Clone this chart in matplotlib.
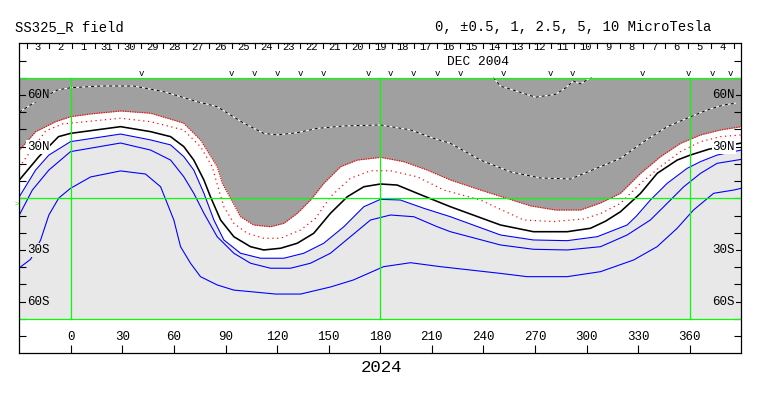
import matplotlib
matplotlib.use('Agg')
import matplotlib.pyplot as plt

plt.rcParams['font.family'] = ['Liberation Mono', 'DejaVu Sans Mono']

# ---------------- data (longitude / latitude in degrees) ----------------
# outer red dotted contour (boundary of dark-gray region)
r_outer_lon = [-30, -20.5, -8.9, -0.2, 11.5, 28.9, 46.4, 65.5, 75.4, 85.1, 88.1, 92.9, 98.7, 106.3,
               116.1, 123.9, 131.7, 139.4, 147.1, 156.9, 166.6, 180.1, 193.5, 207.3, 220.8, 238.3,
               267.4, 281.9, 296.4, 308.1, 319.7, 331.4, 343.0, 354.6, 366.3, 377.9, 390]
r_outer_lat = [28.0, 38.7, 44.5, 47.4, 49.0, 50.7, 49.4, 43.7, 33.9, 18.4, 8.7, 0.0, -10.7, -15.5,
               -16.5, -14.5, -8.7, -1.0, 8.7, 18.4, 22.2, 23.8, 21.3, 16.4, 10.6, 4.8,
               -4.4, -6.8, -6.8, -2.7, 2.9, 14.5, 24.2, 31.9, 36.8, 39.7, 41.6]

# inner red dotted contour
r_inner_lon = [-30, -26.3, -14.7, -4.8, 28.9, 46.4, 65.5, 75.4, 82.2, 86.1, 89.0, 94.8, 102.6,
               112.2, 122.0, 133.6, 142.3, 151.0, 162.6, 174.3, 185.9, 201.5, 216.9, 238.3,
               263.3, 280.7, 298.2, 308.1, 319.7, 331.4, 343.0, 354.6, 366.3, 377.9, 390]
r_inner_lat = [18.2, 23.4, 39.1, 43.2, 46.5, 44.5, 39.7, 30.0, 18.4, 4.8, -4.9, -14.5, -20.3,
               -23.2, -23.2, -18.4, -11.7, 0.9, 11.6, 16.0, 16.0, 12.5, 4.8, -1.0,
               -12.6, -13.5, -12.0, -8.9, -2.9, 8.7, 18.4, 27.1, 32.9, 35.8, 36.8]

# black solid contour
k_lon = [-30, -18.6, -7.2, -0.2, 28.9, 46.4, 58.0, 65.7, 71.5, 77.4, 81.2, 87.1, 94.8, 104.5,
         112.2, 122.0, 131.7, 141.3, 151.0, 160.8, 170.4, 180.1, 189.8, 201.5, 211.1, 220.8,
         249.9, 269.1, 288.7, 302.3, 311.0, 319.7, 331.4, 341.1, 352.7, 360.3, 371.1, 390]
k_lat = [10.6, 24.2, 35.8, 37.7, 41.6, 38.7, 35.8, 30.0, 22.2, 10.6, 0.9, -12.6, -22.3, -28.1,
         -30.0, -29.0, -26.1, -20.3, -8.7, 0.9, 6.7, 8.3, 7.7, 2.9, -1.0, -4.9,
         -15.5, -19.4, -19.4, -17.4, -13.3, -7.8, 2.9, 14.5, 22.2, 25.1, 28.5, 32.1]

# first blue contour (upper edge of light-gray region)
b1_lon = [-30, -20.5, -12.8, -0.2, 28.9, 46.4, 58.0, 65.7, 71.5, 77.4, 83.2, 89.0, 98.7, 110.3,
          123.9, 135.5, 147.1, 158.8, 170.4, 180.1, 191.7, 205.3, 220.8, 249.9, 269.1, 288.7,
          306.2, 323.6, 329.0, 337.1, 346.9, 358.5, 366.3, 375.9, 390]
b1_lat = [0.9, 16.4, 25.1, 32.9, 37.3, 33.9, 31.0, 24.2, 16.4, 2.9, -12.6, -24.2, -31.9, -34.8,
          -34.8, -31.9, -26.1, -16.5, -4.9, -0.6, -1.0, -5.8, -10.7, -21.3, -24.2, -24.6,
          -22.3, -15.5, -10.3, -1.0, 8.7, 17.4, 21.3, 25.1, 28.0]

# second blue contour
b2_lon = [-30, -22.4, -12.8, -0.2, 28.9, 46.4, 58.0, 65.7, 71.5, 77.4, 85.1, 94.8, 104.5, 116.1,
          127.8, 139.4, 151.0, 162.6, 174.3, 185.9, 199.5, 213.1, 220.8, 249.9, 269.1, 288.7,
          308.1, 323.6, 337.1, 346.9, 356.5, 366.3, 375.9, 390]
b2_lat = [-9.7, 4.8, 16.4, 27.1, 32.1, 28.0, 22.2, 12.5, 2.9, -8.7, -22.3, -31.9, -37.7, -40.6,
          -40.6, -37.7, -31.9, -22.3, -12.6, -9.7, -10.7, -16.5, -19.4, -27.1, -29.6, -30.0,
          -28.1, -21.3, -12.6, -2.9, 6.7, 14.5, 20.3, 22.6]

# third (deep) blue contour
b3_lon = [-30, -23.4, -17.6, -12.8, -7.0, -0.2, 11.5, 28.9, 43.4, 52.2, 59.9, 63.8, 69.6, 75.4,
          85.1, 94.8, 104.5, 119.1, 133.6, 151.0, 164.4, 181.9, 197.6, 215.0, 249.9, 265.4,
          288.7, 308.1, 327.4, 341.0, 352.7, 362.2, 373.9, 385.6, 390]
b3_lat = [-40.4, -35.4, -24.2, -9.7, 0.2, 5.8, 12.4, 15.9, 14.1, 6.7, -12.6, -28.1, -37.7, -45.5,
          -50.3, -53.3, -54.2, -55.6, -55.6, -51.5, -47.4, -39.7, -37.4, -39.7, -43.6, -45.5,
          -45.5, -42.6, -35.8, -28.1, -17.4, -6.8, 2.9, 4.8, 5.8]

# black/white dashed contour in the dark-gray region
d_lon = [-30, -21.7, -7.9, -0.2, 17.3, 36.6, 54.1, 73.5, 85.1, 100.6, 112.2, 120.0, 131.7, 143.3,
         158.8, 180.1, 197.6, 211.1, 220.8, 238.3, 255.8, 273.2, 290.7, 308.1, 319.7, 333.3,
         346.9, 358.5, 370.1, 379.8, 386.6]
d_lat = [50.1, 55.3, 62.9, 64.2, 65.2, 65.2, 61.9, 56.1, 53.2, 43.6, 37.7, 36.8, 38.1, 40.6,
         42.0, 42.6, 39.7, 34.8, 31.9, 22.2, 15.3, 11.8, 11.2, 18.4, 23.2, 32.9,
         41.6, 46.5, 51.3, 54.2, 55.2]

# small dashed dip near the top edge
dip_lon = [245.8, 249.9, 257.5, 270.3, 281.9, 287.7, 292.3, 296.4, 301.1, 303.4]
dip_lat = [70.0, 65.1, 62.8, 58.7, 60.4, 64.0, 68.1, 66.4, 69.3, 70.0]

# axis ticks / labels
lon_ticks = [0, 30, 60, 90, 120, 150, 180, 210, 240, 270, 300, 330, 360]
lat_ticks = [-80, -70, -60, -50, -40, -30, -20, -10, 0, 10, 20, 30, 40, 50, 60, 70, 80]
lat_labels = {60: '60N', 30: '30N', -30: '30S', -60: '60S'}
green_lons = [0, 180, 360]
green_lats = [70, 0, -70]

# day strip on top (DEC 2004, days running backwards)
day_labels = ['3', '2', '1', '31', '30', '29', '28', '27', '26', '25', '24', '23', '22', '21',
              '20', '19', '18', '17', '16', '15', '14', '13', '12', '11', '10', '9', '8', '7',
              '6', '5', '4']
day_first_lon = -25.8
day_last_lon = 385.7

# "v" markers above the data region
v_lons = [41.3, 93.6, 107.0, 120.4, 133.8, 147.1, 173.3, 186.1, 199.5, 213.4, 226.8, 251.8,
          279.2, 292.0, 332.7, 359.5, 373.4, 383.8]

title_left = 'SS325_R field'
title_right = '0, \u00b10.5, 1, 2.5, 5, 10 MicroTesla'
month_label = 'DEC 2004'
year_label = '2024'

# ---------------- styling ----------------
DARK = '#a0a0a0'
LIGHT = '#e8e8e8'
GREEN = '#00ff00'
LAT_TOP, LAT_BOT = 70, -70

fig = plt.figure(figsize=(7.63, 3.96), dpi=100)
ax = fig.add_axes([19.3 / 763, 1 - 353.3 / 396, 722 / 763, 310 / 396])
ax.set_xlim(-30, 390)
ax.set_ylim(-90, 90)

# fills
ax.fill_between(r_outer_lon, r_outer_lat, LAT_TOP, color=DARK, lw=0, zorder=1)
ax.fill_between(b1_lon, LAT_BOT, b1_lat, color=LIGHT, lw=0, zorder=1)

# contour lines
px = 0.72
ax.plot(d_lon, d_lat, color='white', lw=1.0 * px, zorder=2)
ax.plot(d_lon, d_lat, color='black', lw=1.0 * px, ls=(0, (3, 3)), zorder=2.1)
ax.plot(dip_lon, dip_lat, color='white', lw=1.0 * px, zorder=2)
ax.plot(dip_lon, dip_lat, color='black', lw=1.0 * px, ls=(0, (3, 3)), zorder=2.1)
ax.plot(r_outer_lon, r_outer_lat, color='red', lw=1.2 * px, ls=(0, (1, 1)), zorder=2)
ax.plot(r_inner_lon, r_inner_lat, color='red', lw=1.2 * px, ls=(0, (1, 3)), zorder=2)
ax.plot(k_lon, k_lat, color='black', lw=1.6 * px, zorder=2)
for lo, la in [(b1_lon, b1_lat), (b2_lon, b2_lat), (b3_lon, b3_lat)]:
    ax.plot(lo, la, color='blue', lw=1.1 * px, zorder=2)

# green grid lines
for g in green_lons:
    ax.plot([g, g], [LAT_BOT, LAT_TOP], color=GREEN, lw=1.2 * px, zorder=3)
for g in green_lats:
    ax.axhline(g, color=GREEN, lw=1.2 * px, zorder=3)

# ticks
ax.set_xticks(lon_ticks)
ax.set_yticks(lat_ticks)
ax.tick_params(axis='x', direction='in', length=5.5, width=0.8, bottom=True, top=False,
               labelbottom=False)
ax.tick_params(axis='y', direction='in', length=5, width=0.8, left=True, right=True,
               labelleft=False)
for s in ax.spines.values():
    s.set_linewidth(0.9)
    s.set_zorder(5)

# bottom lon labels
for lo in lon_ticks:
    ax.text(lo, -80.5, str(lo), ha='center', va='center', fontsize=9, zorder=6)

# lat labels
bg = {60: DARK, 30: 'white', -30: LIGHT, -60: LIGHT}
for la, txt in lat_labels.items():
    for xx, ha in [(-25.6, 'left'), (386.4, 'right')]:
        ax.text(xx, la, txt, ha=ha, va='center', fontsize=9, zorder=6,
                bbox=dict(facecolor=bg[la], edgecolor='none', pad=0.6))

# day strip
n = len(day_labels)
step = (day_last_lon - day_first_lon) / n
for i in range(n + 1):
    t = day_first_lon + i * step
    ax.plot([t, t], [90, 87.2], color='black', lw=0.8, zorder=5, clip_on=False)
for i, lab in enumerate(day_labels):
    c = day_first_lon + (i + 0.5) * step
    ax.text(c, 88.0, lab, ha='center', va='center', fontsize=7.6, zorder=6)

ax.text(237.1, 78.9, month_label, ha='center', va='center', fontsize=9.3, zorder=6)

for v in v_lons:
    ax.text(v, 72.6, 'v', ha='center', va='center', fontsize=6.5, zorder=6)

# titles
fig.text(15 / 763, 1 - 27 / 396, title_left, ha='left', va='center', fontsize=10)
fig.text(711 / 763, 1 - 27 / 396, title_right, ha='right', va='center', fontsize=10)
fig.text(381 / 763, 1 - 367 / 396, year_label, ha='center', va='center', fontsize=12.5)
fig.text(16.5 / 763, 1 - 204 / 396, '>', ha='center', va='center', fontsize=5.5, color=GREEN)

fig.savefig('out.png', dpi=100)
